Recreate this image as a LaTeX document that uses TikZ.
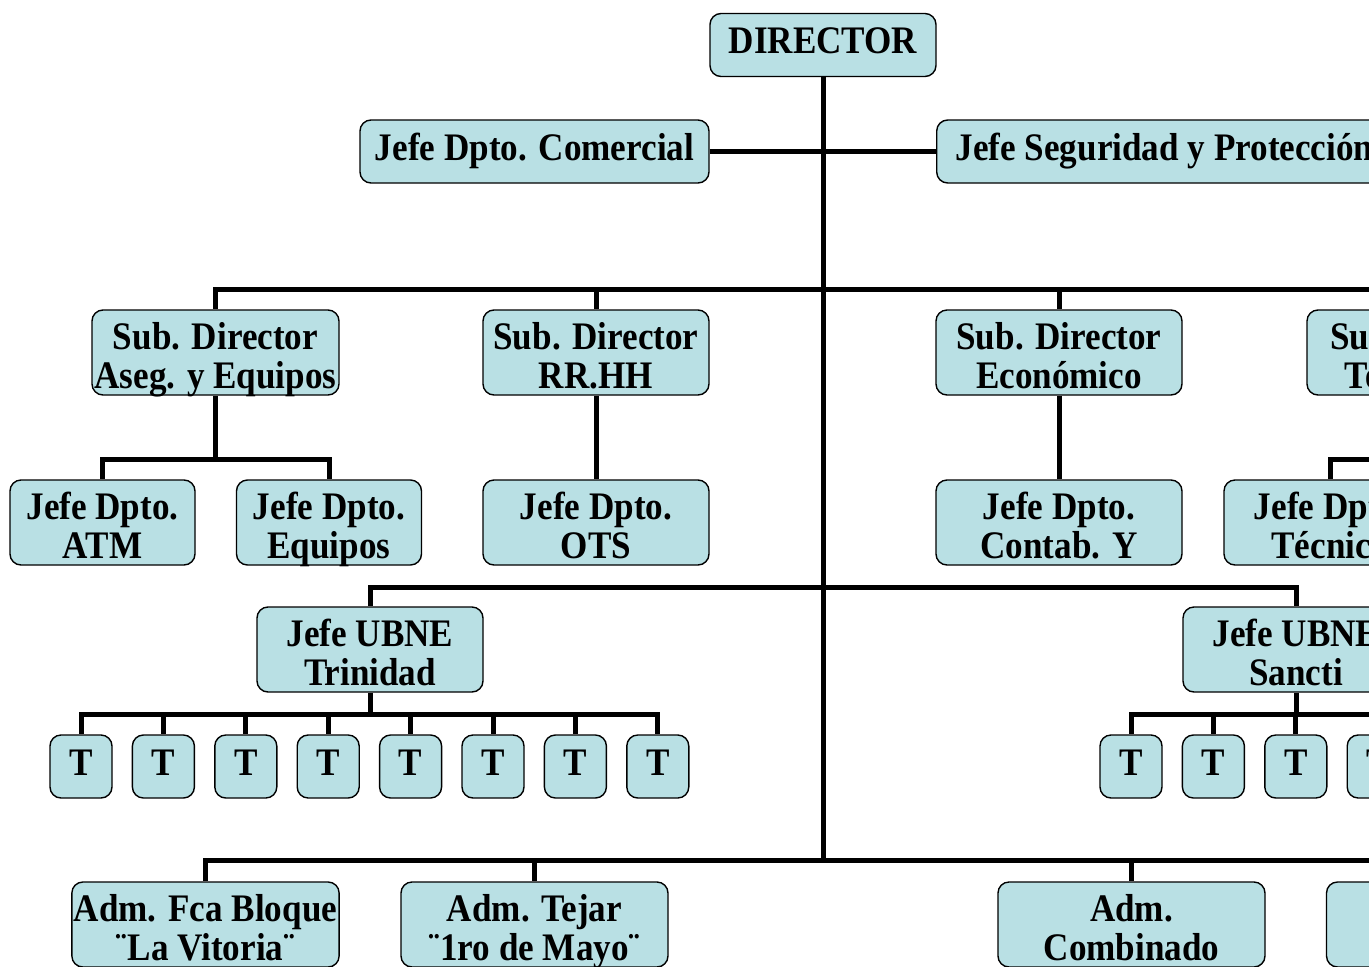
\documentclass[tikz,border=0pt]{standalone}
\usepackage{fontspec}
\setmainfont{Liberation Serif}[FakeStretch=0.9]
\usetikzlibrary{calc}
\definecolor{celeste}{RGB}{185,224,228}
\tikzset{
  cargo/.style={draw, line width=1.4pt, rounded corners=11pt, fill=celeste,
    font=\fontsize{39}{39}\selectfont\bfseries, align=center,
    inner xsep=2pt, inner ysep=0pt},
  uno/.style={cargo, text height=40pt, text depth=23pt},
  dos/.style={cargo, text height=78pt, text depth=7pt},
  linea/.style={line width=5pt}
}

\begin{document}
\begin{tikzpicture}[x=1pt,y=-1pt]
  \useasboundingbox (0,0) rectangle (1369,967);
  \clip (0,0) rectangle (1369,967);
  \node[uno, minimum width=226pt] (dir) at (823,45) {DIRECTOR};
  \node[uno, minimum width=349pt] (com) at (534.5,151.5) {Jefe Dpto. Comercial};
  \node[uno, anchor=west, inner xsep=19pt] (seg) at (936,151.5) {Jefe Seguridad y Protección};
  \node[dos, minimum width=247pt] (sdaseg) at (215.5,352.5) {Sub. Director\\Aseg. y Equipos};
  \node[dos, minimum width=226pt] (sdrh) at (596,352.5) {Sub. Director\\RR.HH};
  \node[dos, minimum width=246pt] (sdeco) at (1059,352.5) {Sub. Director\\Económico};
  \node[dos, minimum width=252pt] (sdtec) at (1433,352.5) {Sub. Director\\Tecnológico};
  \node[dos, minimum width=185pt] (jatm) at (102.5,522.5) {Jefe Dpto.\\ATM};
  \node[dos, minimum width=185pt] (jequ) at (329,522.5) {Jefe Dpto.\\Equipos};
  \node[dos, minimum width=226pt] (jots) at (596,522.5) {Jefe Dpto.\\OTS};
  \node[dos, minimum width=246pt] (jcont) at (1059,522.5) {Jefe Dpto.\\Contab. Y};
  \node[dos, minimum width=212pt] (jtec) at (1330,522.5) {Jefe Dpto.\\Técnico};
  \node[dos, minimum width=226pt] (ubtri) at (370,649.5) {Jefe UBNE\\Trinidad};
  \node[dos, minimum width=226pt] (ubsan) at (1296,649.5) {Jefe UBNE\\Sancti};
  \foreach \i in {1,...,8}
    \node[uno, minimum width=62pt] (t\i) at ({81+82.4*(\i-1)},766.5) {T};
  \foreach \i in {1,...,4}
    \node[uno, minimum width=62pt] (s\i) at ({1131+82.4*(\i-1)},766.5) {T};
  \node[dos, minimum width=267pt] (admbl) at (205.5,924.5) {Adm. Fca Bloque\\¨La Vitoria¨};
  \node[dos, minimum width=267pt] (admtej) at (534.5,924.5) {Adm. Tejar\\¨1ro de Mayo¨};
  \node[dos, minimum width=267pt] (admcom) at (1131.5,924.5) {Adm.\\Combinado};
  \node[dos, minimum width=267pt] (admotro) at (1460,924.5) {};

  \coordinate (b1) at (823,289);
  \coordinate (b2) at (823,587);
  \coordinate (b4) at (823,860);
  \coordinate (fa) at (215.5,459);
  \coordinate (ft) at (1433,459);
  \coordinate (ftri) at (370,714);
  \coordinate (fsan) at (1296,714);

  \draw[linea] (dir.south) -- (b4);
  \draw[linea] (com.east) -- (seg.west);
  \foreach \n in {sdaseg,sdrh,sdeco,sdtec}
    \draw[linea] (b1) -| (\n.north);
  \draw[linea] (sdaseg.south) -- (fa);
  \draw[linea] (fa) -| (jatm.north);
  \draw[linea] (fa) -| (jequ.north);
  \draw[linea] (sdrh.south) -- (jots.north);
  \draw[linea] (sdeco.south) -- (jcont.north);
  \draw[linea] (sdtec.south) -- (ft) -| (jtec.north);
  \foreach \n in {ubtri,ubsan}
    \draw[linea] (b2) -| (\n.north);
  \draw[linea] (ubtri.south) -- (ftri);
  \foreach \i in {1,...,8}
    \draw[linea] (ftri) -| (t\i.north);
  \draw[linea] (ubsan.south) -- (fsan);
  \foreach \i in {1,...,4}
    \draw[linea] (fsan) -| (s\i.north);
  \foreach \n in {admbl,admtej,admcom,admotro}
    \draw[linea] (b4) -| (\n.north);
\end{tikzpicture}
\end{document}
